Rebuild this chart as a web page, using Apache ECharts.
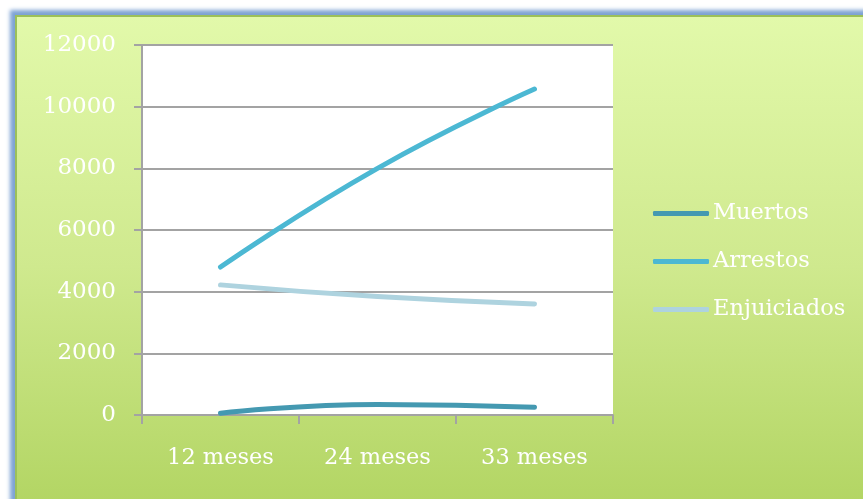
<!DOCTYPE html>
<html>
<head>
<meta charset="utf-8">
<script src="https://cdn.jsdelivr.net/npm/echarts@6/dist/echarts.min.js"></script>
<style>
  html, body { margin: 0; padding: 0; background: #fff; }
  #bg {
    position: absolute; left: 15px; top: 15px; width: 870px; height: 500px;
    background: linear-gradient(to bottom, #e2f9aa 0%, #cfe98e 50%, #b1d461 100%);
    border-top: 2px solid #9cc05a; border-left: 2px solid #9cc05a;
    box-shadow: -3px -3px 4px 2px #7ea3d4;
  }
  #chart { position: absolute; left: 0; top: 0; width: 863px; height: 499px; }
</style>
</head>
<body>
<div id="bg"></div>
<div id="chart"></div>
<script>
  const categories = ["12 meses", "24 meses", "33 meses"];
  const muertos = [60, 340, 250];
  const arrestos = [4800, 8000, 10570];
  const enjuiciados = [4220, 3840, 3600];

  const font = "DejaVu Serif";
  const gray = "#a3a3a3";

  const options = {
    backgroundColor: "transparent",
    animation: false,
    grid: {
      left: 142,
      right: 250,
      top: 45,
      bottom: 84,
      show: true,
      backgroundColor: "#ffffff",
      borderWidth: 0,
    },
    legend: {
      orient: "vertical",
      left: 653,
      top: 202,
      padding: 0,
      itemWidth: 56,
      itemHeight: 5,
      itemGap: 25,
      icon: "roundRect",
      textStyle: { fontFamily: font, fontSize: 22.5, color: "#ffffff", padding: [0, 0, 0, -1] },
      data: ["Muertos", "Arrestos", "Enjuiciados"],
    },
    xAxis: {
      type: "category",
      data: categories,
      boundaryGap: true,
      axisLine: { lineStyle: { color: gray, width: 2 } },
      axisTick: { show: true, length: 9, lineStyle: { color: gray, width: 2 } },
      axisLabel: { color: "#ffffff", fontFamily: font, fontSize: 22.5, margin: 32 },
    },
    yAxis: {
      type: "value",
      min: 0,
      max: 12000,
      interval: 2000,
      axisLine: { show: true, lineStyle: { color: gray, width: 2 } },
      axisTick: { show: true, length: 8, lineStyle: { color: gray, width: 2 } },
      splitLine: { lineStyle: { color: gray, width: 2 } },
      axisLabel: { color: "#ffffff", fontFamily: font, fontSize: 23, margin: 26, formatter: (v) => String(v) },
    },
    series: [
      {
        name: "Muertos",
        type: "line",
        smooth: true,
        symbol: "none",
        data: muertos,
        lineStyle: { width: 5, color: "#4499b1", cap: "round" },
        itemStyle: { color: "#4499b1" },
      },
      {
        name: "Arrestos",
        type: "line",
        smooth: true,
        symbol: "none",
        data: arrestos,
        lineStyle: { width: 5, color: "#4cb8d3", cap: "round" },
        itemStyle: { color: "#4cb8d3" },
      },
      {
        name: "Enjuiciados",
        type: "line",
        smooth: true,
        symbol: "none",
        data: enjuiciados,
        lineStyle: { width: 5, color: "#aed3df", cap: "round" },
        itemStyle: { color: "#aed3df" },
      },
    ],
  };

  let myChart = echarts.init(document.getElementById("chart"));
  myChart.setOption(options);
</script>
</body>
</html>
